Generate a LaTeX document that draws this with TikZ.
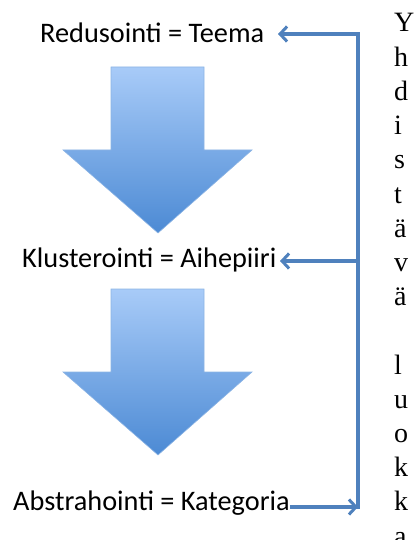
\documentclass[tikz,border=0pt]{standalone}
\usepackage{fontspec}
\setmainfont{Carlito}
\newfontfamily\letterfont{Liberation Serif}
\usetikzlibrary{arrows.meta}

\definecolor{linkblue}{RGB}{79,129,189}
\definecolor{shaftlight}{RGB}{168,203,248}
\definecolor{shaftdark}{RGB}{76,138,212}
\definecolor{shaftedge}{RGB}{140,180,228}

\tikzset{
  label/.style={inner sep=0pt, anchor=base west, font=\fontsize{28.3}{33}\selectfont},
  letter/.style={inner sep=0pt, anchor=base west, font=\letterfont\fontsize{28}{34}\selectfont},
  link/.style={draw=linkblue, line width=3.2pt},
  linktip/.style={link, -{Straight Barb[length=7pt,width=15pt,line width=3pt]}},
  blockarrow/.style={top color=shaftlight, bottom color=shaftdark, draw=shaftedge, line width=0.6pt, line join=miter},
}

\begin{document}
\begin{tikzpicture}[x=1pt,y=-1pt]
  \useasboundingbox (0,0) rectangle (413,540);
  \clip (0,0) rectangle (413,540);

  % stage labels
  \node[label] (red) at (40,43)  {Redusointi = Teema};
  \node[label] (klu) at (22,267) {Klusterointi = Aihepiiri};
  \node[label] (abs) at (13,510) {Abstrahointi = Kategoria};

  % block arrows between the stages
  \path[blockarrow] (111,67) -- (204,67) -- (204,150) -- (252,150)
        -- (158,233) -- (63,150) -- (111,150) -- cycle;
  \path[blockarrow] (111,289) -- (204,289) -- (204,372) -- (252,372)
        -- (158,455) -- (63,372) -- (111,372) -- cycle;

  % feedback bracket on the right
  \coordinate (jt) at (358,34);
  \coordinate (jm) at (358,261);
  \coordinate (jb) at (358,507);
  \coordinate (tipR) at (278,34);
  \coordinate (tipK) at (280,261);
  \draw[link, line cap=rect] (jt) -- (jb);
  \draw[linktip] (jt) -- (tipR);
  \draw[linktip] (jm) -- (tipK);
  \draw[linktip] (abs.east |- jb) -- (jb);

  % vertical caption, one letter per line
  \foreach \ch [count=\i from 0] in {Y,h,d,i,s,t,ä,v,ä,{},l,u,o,k,k,a} {
    \node[letter] (v\i) at (394,{32+34.2*\i}) {\ch};
  }
\end{tikzpicture}
\end{document}
